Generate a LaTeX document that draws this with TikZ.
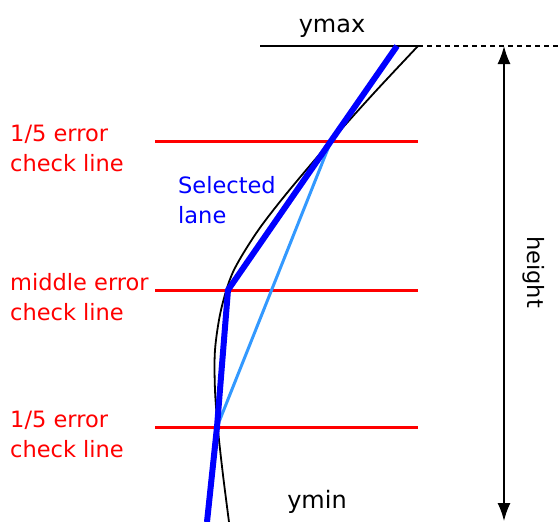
\documentclass[tikz,border=0pt]{standalone}
\usepackage{fontspec}
\setmainfont{DejaVu Sans}
\usepackage{xcolor}
\usetikzlibrary{arrows.meta, positioning, calc}

\definecolor{lanelight}{RGB}{51,153,255}

\begin{document}
\begin{tikzpicture}[x=1pt, y=-1pt,
            dim/.style={{Latex[length=18pt, width=13pt]}-{Latex[length=18pt, width=13pt]}, line width=1.6pt},
            lbl/.style={font=\fontsize{22.5}{30}\selectfont, inner sep=0pt, align=left},
            checkline/.style={red, line width=3pt},
            lane/.style={blue, line width=6pt, line join=round}]

            \useasboundingbox (0,0) rectangle (558,522);

            % ===== points on the lane =====
            \coordinate (top) at (397,46);
            \coordinate (p1) at (331,141);
            \coordinate (p2) at (228,290);
            \coordinate (p3) at (217,427);
            \coordinate (bot) at (207,522);

            % ===== ymax / dashed / height =====
            \coordinate (ymaxL) at (260,46);
            \coordinate (ymaxR) at (418,46);
            \coordinate (dashR) at (558,46);
            \coordinate (hTop) at (504,46);
            \coordinate (hBot) at (504,521);
            \draw[line width=1.6pt] (ymaxL) -- (ymaxR);
            \draw[dash pattern=on 5pt off 4pt, line width=1.6pt] (ymaxR) -- (dashR);
            \draw[dim] (hTop) -- (hBot);

            \node[lbl, anchor=base, font=\fontsize{24}{30}\selectfont] (ymax) at (332,32) {ymax};
            \node[lbl, anchor=base, font=\fontsize{24}{30}\selectfont] (ymin) at (317,508) {ymin};
            \node[lbl, rotate=-90] (height) at (534,272) {height};

            % ===== check lines =====
            \coordinate (c1L) at (155,141);  \coordinate (c1R) at (418,141);
            \coordinate (c2L) at (155,290);  \coordinate (c2R) at (418,290);
            \coordinate (c3L) at (155,427);  \coordinate (c3R) at (418,427);
            \draw[checkline] (c1L) -- (c1R);
            \draw[checkline] (c2L) -- (c2R);
            \draw[checkline] (c3L) -- (c3R);

            \node[lbl, red, anchor=base west] (lab1) at (10,171) {1/5 error\\check line};
            \node[lbl, red, anchor=base west] (lab2) at (10,320) {middle error\\check line};
            \node[lbl, red, anchor=base west] (lab3) at (10,457) {1/5 error\\check line};
            \node[lbl, blue, anchor=base west] (sel) at (178,223) {Selected\\lane};

            % ===== real lane (black curve) =====
            \draw[line width=1.8pt] plot[smooth, tension=0.5] coordinates
                {(418,46) (374,93) (331,141) (287,193) (257,232) (233,272) (221,310)
                 (215,350) (215,390) (218,430) (223,475) (229,522)};

            % ===== light blue chord =====
            \draw[lanelight, line width=3pt] (p1) -- (p3);

            % ===== selected lane =====
            \draw[lane] (top) -- (p1) -- (p2) -- (p3) -- (bot);
        \end{tikzpicture}
\end{document}
